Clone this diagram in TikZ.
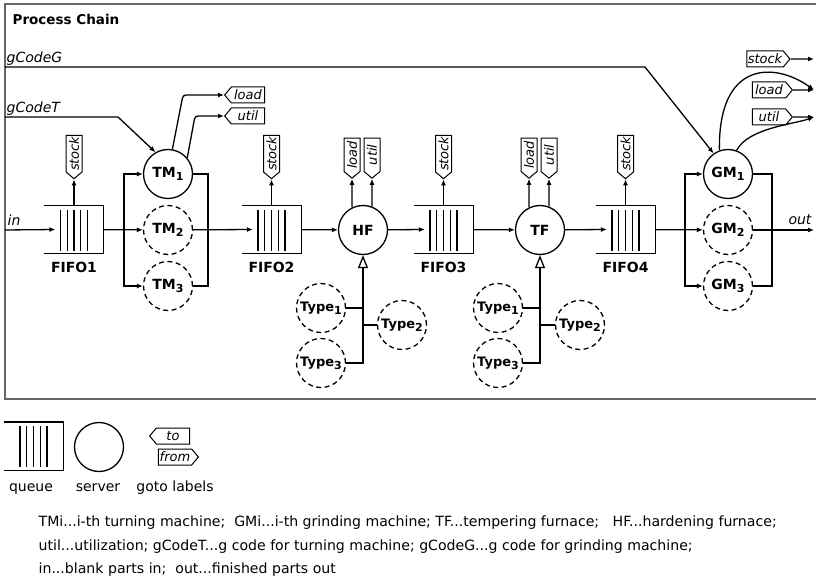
\documentclass[tikz,border=0pt]{standalone}
\usepackage{fontspec}
\setmainfont{DejaVu Sans}
\usetikzlibrary{arrows.meta, positioning, shapes.symbols, calc}

\newcommand{\idx}[1]{\raisebox{-3pt}{\fontsize{11}{11}\selectfont #1}}
\newcommand{\queuebox}[1]{%
  \draw (#1.north west) -- (#1.north east) -- (#1.south east) -- (#1.south west);
  \foreach \dx in {-13.5,-6.75,0,6.75,13.5}
    \draw ([xshift=\dx pt, yshift=-4.5pt]#1.north) -- ([xshift=\dx pt, yshift=3pt]#1.south);
}

\begin{document}
\begin{tikzpicture}[
    x=1pt, y=1pt,
    line width=1.3pt,
    server/.style={circle, draw, minimum size=49pt, inner sep=0pt, font=\fontsize{14}{16}\selectfont\bfseries},
    ghost/.style={server, dash pattern=on 5pt off 3.5pt},
    kind/.style={ghost, font=\fontsize{13}{15}\selectfont\bfseries},
    queue/.style={rectangle, minimum width=58pt, minimum height=47pt, inner sep=0pt},
    qlab/.style={font=\fontsize{14}{16}\selectfont\bfseries, inner sep=1pt},
    gototag/.style={signal, signal pointer angle=100, draw, line width=1pt, minimum width=40pt, minimum height=16pt, inner sep=1pt, font=\fontsize{13}{15}\selectfont\itshape},
    tolab/.style={gototag, signal to=west},
    fromlab/.style={gototag, signal to=east},
    sig/.style={font=\fontsize{14}{16}\selectfont\itshape, inner sep=0pt},
    desc/.style={font=\fontsize{14.1}{16}\selectfont, inner sep=0pt},
    arrow/.style={-{Latex[length=6pt,width=5pt]}},
    hollow/.style={-{Triangle[open,length=13pt,width=10pt]}}
]
    \useasboundingbox (0,0) rectangle (816,-577);
    \fill[white] (0,0) rectangle (816,-577);

    % Frame
    \draw[black!60, line width=1.5pt] (816,-4) -- (5,-4) -- (5,-399) -- (816,-399);
    \node[anchor=base west, font=\fontsize{13.5}{16}\selectfont\bfseries, inner sep=0pt] (title) at (12,-25) {Process Chain};

    % Queues
    \node[queue] (fifo1) at (74,-229.5) {};
    \node[queue] (fifo2) at (271.5,-229.5) {};
    \node[queue] (fifo3) at (443.5,-229.5) {};
    \node[queue] (fifo4) at (625.5,-229.5) {};
    \foreach \q in {1,...,4} {
        \queuebox{fifo\q}
        \node[qlab, below=7pt of fifo\q] (fifo\q lab) {FIFO\q};
    }

    % Servers
    \node[server] (tm1) at (168,-174) {TM\idx{1}};
    \node[ghost] (tm2) at (168,-230) {TM\idx{2}};
    \node[ghost] (tm3) at (168,-286) {TM\idx{3}};
    \node[server] (hf) at (363,-230) {HF};
    \node[server] (tf) at (540,-230) {TF};
    \node[server] (gm1) at (728,-174) {GM\idx{1}};
    \node[ghost] (gm2) at (728,-230) {GM\idx{2}};
    \node[ghost] (gm3) at (728,-286) {GM\idx{3}};

    % Furnace types
    \node[kind] (hftype1) at (321,-308) {Type\idx{1}};
    \node[kind] (hftype2) at (402,-325) {Type\idx{2}};
    \node[kind] (hftype3) at (321,-363) {Type\idx{3}};
    \node[kind] (tftype1) at (498,-308) {Type\idx{1}};
    \node[kind] (tftype2) at (580,-325) {Type\idx{2}};
    \node[kind] (tftype3) at (498,-363) {Type\idx{3}};

    % Goto labels
    \foreach \q in {1,...,4}
        \node[tolab, rotate=90, anchor=west] (stock\q) at ([yshift=26pt]fifo\q.north) {stock};
    \node[tolab, rotate=90, anchor=west] (hfload) at ([xshift=-11pt,yshift=26pt]hf.north) {load};
    \node[tolab, rotate=90, anchor=west] (hfutil) at ([xshift=9pt,yshift=26pt]hf.north) {util};
    \node[tolab, rotate=90, anchor=west] (tfload) at ([xshift=-11pt,yshift=26pt]tf.north) {load};
    \node[tolab, rotate=90, anchor=west] (tfutil) at ([xshift=9pt,yshift=26pt]tf.north) {util};
    \node[tolab, anchor=west] (tmload) at (224,-95) {load};
    \node[tolab, anchor=west] (tmutil) at (224,-116) {util};
    \node[fromlab] (gmstock) at (765,-59) {stock};
    \node[fromlab] (gmload) at (769,-90) {load};
    \node[fromlab] (gmutil) at (769,-117) {util};

    % Signals in and out
    \node[sig, anchor=base west] (gGlab) at (6,-63) {gCodeG};
    \node[sig, anchor=base west] (gTlab) at (6,-113) {gCodeT};
    \node[sig, anchor=base west] (inlab) at (7,-226) {in};
    \node[sig, anchor=base] (outlab) at (800,-225) {out};
    \coordinate (gG) at (5,-67);
    \coordinate (gGbend) at (645,-67);
    \coordinate (gT) at (5,-117);
    \coordinate (gTbend) at (118,-117);
    \coordinate (inpt) at (5,-230);
    \coordinate (outpt) at (814,-230);
    \coordinate (split1) at (124,-230);
    \coordinate (merge1) at (208,-230);
    \coordinate (split2) at (685,-230);
    \coordinate (merge2) at (772,-230);
    \coordinate (rstock) at (814,-59);
    \coordinate (rload) at (814,-90);
    \coordinate (rutil) at (814,-117);

    % Main flow
    \draw[arrow] (inpt) -- ([xshift=11pt]fifo1.west);
    \draw[arrow] (fifo1) -- (tm2);
    \draw[arrow] (split1) |- (tm1);
    \draw[arrow] (split1) |- (tm3);
    \draw (tm1) -| (merge1) |- (tm3);
    \draw[arrow] (tm2) -- ([xshift=11pt]fifo2.west);
    \draw[arrow] (fifo2) -- (hf);
    \draw[arrow] (hf) -- ([xshift=11pt]fifo3.west);
    \draw[arrow] (fifo3) -- (tf);
    \draw[arrow] (tf) -- ([xshift=11pt]fifo4.west);
    \draw[arrow] (fifo4) -- (gm2);
    \draw[arrow] (split2) |- (gm1);
    \draw[arrow] (split2) |- (gm3);
    \draw (gm1) -| (merge2) |- (gm3);
    \draw[arrow] (gm2) -- (outpt);

    % g codes
    \draw[arrow] (gT) -- (gTbend) -- (tm1.120);
    \draw[arrow] (gG) -- (gGbend) -- (gm1.125);

    % Goto connections
    \foreach \q in {1,...,4}
        \draw[arrow] (fifo\q.north) -- (stock\q.west);
    \draw[arrow] (hf.116) -- (hfload.west);
    \draw[arrow] (hf.69) -- (hfutil.west);
    \draw[arrow] (tf.116) -- (tfload.west);
    \draw[arrow] (tf.69) -- (tfutil.west);
    \draw[arrow, rounded corners=3pt] (tm1.80) -- ([xshift=-41pt]tmload.west) -- (tmload.west);
    \draw[arrow, rounded corners=3pt] (tm1.40) -- ([xshift=-29pt]tmutil.west) -- (tmutil.west);
    \draw[arrow] (gmstock) -- (rstock);
    \draw[arrow] (gmload) -- (rload);
    \draw[arrow] (gmutil) -- (rutil);
    \draw[arrow] (gm1.110) .. controls (718,-60) and (775,-62) .. (rload);
    \draw[arrow] (gm1.70) .. controls (748,-128) and (795,-124) .. (rutil);

    % Type selection
    \draw (hftype1) -- (hftype1 -| hf);
    \draw (hftype2) -- (hftype2 -| hf);
    \draw[hollow] (hftype3) -| (hf);
    \draw (tftype1) -- (tftype1 -| tf);
    \draw (tftype2) -- (tftype2 -| tf);
    \draw[hollow] (tftype3) -| (tf);

    % Legend
    \node[queue] (legq) at (33.5,-446) {};
    \queuebox{legq}
    \node[server] (legs) at (99,-447) {};
    \node[tolab] (legto) at (173,-436) {to};
    \node[fromlab] (legfrom) at (175,-457) {from};
    \node[anchor=base, font=\fontsize{14}{16}\selectfont] (legqlab) at (31,-491) {queue};
    \node[anchor=base, font=\fontsize{14}{16}\selectfont] (legslab) at (98,-491) {server};
    \node[anchor=base, font=\fontsize{14}{16}\selectfont] (legglab) at (175,-491) {goto labels};

    % Notes
    \node[desc, anchor=base west] (note1) at (38,-526) {TMi...i-th turning machine;\ \ GMi...i-th grinding machine; TF...tempering furnace;\ \ \ HF...hardening furnace;};
    \node[desc, anchor=base west] (note2) at (38,-550) {util...utilization; gCodeT...g code for turning machine; gCodeG...g code for grinding machine;};
    \node[desc, anchor=base west] (note3) at (38,-573) {in...blank parts in;\ \ out...finished parts out};
\end{tikzpicture}
\end{document}
